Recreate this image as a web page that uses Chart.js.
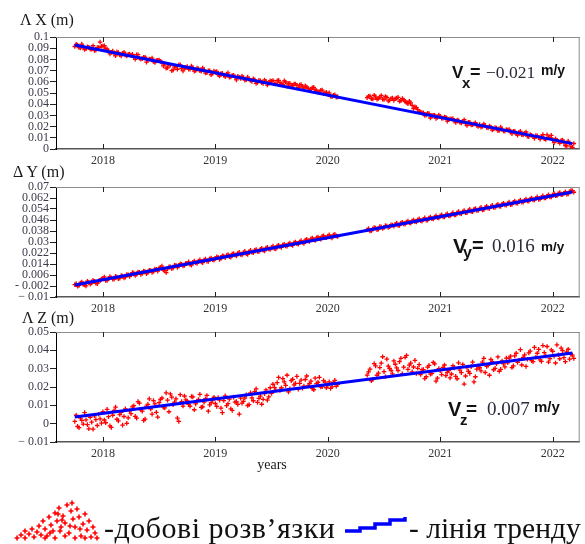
<!DOCTYPE html>
<html><head><meta charset="utf-8">
<script src="https://cdn.jsdelivr.net/npm/chart.js@4.4.0/dist/chart.umd.min.js"></script>
<style>
html,body{margin:0;padding:0;background:#fff;}
body{width:585px;height:544px;position:relative;overflow:hidden;}
canvas{position:absolute;left:0;}
svg{position:absolute;left:0;top:0;}
</style></head><body>
<canvas id="c1"></canvas><canvas id="c2"></canvas><canvas id="c3"></canvas>
<svg width="585" height="544" viewBox="0 0 585 544">
<g font-family="Liberation Serif, serif" fill="#1a1a1a">
<text x="20" y="25" font-size="16">Λ X (m)</text>
<text x="13" y="177" font-size="16">Δ Y (m)</text>
<text x="22" y="323" font-size="16">Λ Z (m)</text>
<text x="272" y="469" font-size="14" text-anchor="middle">years</text>
</g>
<g font-family="Liberation Sans, Arial, sans-serif" font-weight="bold" fill="#111">
<text x="452" y="78" font-size="17">V</text>
<text x="462" y="88" font-size="15">x</text>
<text x="470" y="78" font-size="18">=</text>
<text x="541" y="75" font-size="14">m/y</text>
<text x="453" y="253" font-size="21">V</text>
<text x="463" y="258" font-size="16">y</text>
<text x="472" y="252" font-size="20">=</text>
<text x="541" y="251" font-size="13.5">m/y</text>
<text x="448" y="416" font-size="20">V</text>
<text x="460" y="425" font-size="15">z</text>
<text x="466" y="415" font-size="19">=</text>
<text x="534" y="412" font-size="15">m/y</text>
</g>
<g font-family="Liberation Serif, serif" fill="#2a2a3a">
<text x="486" y="78" font-size="17.5">−0.021</text>
<text x="492" y="252" font-size="19">0.016</text>
<text x="487" y="415" font-size="19">0.007</text>
</g>
<g id="legIcon" stroke="#ff0000" stroke-width="1.6"></g>
<polyline points="345,531 360,531 360,528 375,528 375,524 390,524 390,520 405,520 405,517" fill="none" stroke="#0000ff" stroke-width="3.5"/>
<g font-family="Liberation Serif, serif" fill="#111">
<text x="104" y="538" font-size="30" letter-spacing="0.5">-добові розв’язки</text>
<text x="409" y="538" font-size="29.5">- лінія тренду</text>
</g>
</svg>
<script>
// ---------- DATA ----------
// daily-solution dates (decimal years), first sample set
const dates = [
2017.750,2017.775,2017.800,2017.825,2017.850,2017.875,2017.900,2017.925,2017.950,2017.975,
2018.000,2018.025,2018.050,2018.075,2018.100,2018.125,2018.150,2018.175,2018.200,2018.225,
2018.250,2018.275,2018.300,2018.325,2018.350,2018.375,2018.400,2018.425,2018.450,2018.475,
2018.500,2018.525,2018.550,2018.575,2018.600,2018.625,2018.650,2018.675,2018.700,2018.725,
2018.750,2018.775,2018.800,2018.825,2018.850,2018.875,2018.900,2018.925,2018.950,2018.975,
2019.000,2019.025,2019.050,2019.075,2019.100,2019.125,2019.150,2019.175,2019.200,2019.225,
2019.250,2019.275,2019.300,2019.325,2019.350,2019.375,2019.400,2019.425,2019.450,2019.475,
2019.500,2019.525,2019.550,2019.575,2019.600,2019.625,2019.650,2019.675,2019.700,2019.725,
2019.750,2019.775,2019.800,2019.825,2019.850,2019.875,2019.900,2019.925,2019.950,2019.975,
2020.000,2020.025,2020.050,2020.075,
2020.350,2020.375,2020.400,2020.425,2020.450,2020.475,2020.500,2020.525,2020.550,2020.575,
2020.600,2020.625,2020.650,2020.675,2020.700,2020.725,2020.750,2020.775,2020.800,2020.825,
2020.850,2020.875,2020.900,2020.925,2020.950,2020.975,2021.000,2021.025,2021.050,2021.075,
2021.100,2021.125,2021.150,2021.175,2021.200,2021.225,2021.250,2021.275,2021.300,2021.325,
2021.350,2021.375,2021.400,2021.425,2021.450,2021.475,2021.500,2021.525,2021.550,2021.575,
2021.600,2021.625,2021.650,2021.675,2021.700,2021.725,2021.750,2021.775,2021.800,2021.825,
2021.850,2021.875,2021.900,2021.925,2021.950,2021.975,2022.000,2022.025,2022.050,2022.075,
2022.100,2022.125,2022.150,2022.175
];
// second sample set (in between)
const datesB = [
2017.7625,2017.7875,2017.8125,2017.8375,2017.8625,2017.8875,2017.9125,2017.9375,2017.9625,2017.9875,
2018.0125,2018.0375,2018.0625,2018.0875,2018.1125,2018.1375,2018.1625,2018.1875,2018.2125,2018.2375,
2018.2625,2018.2875,2018.3125,2018.3375,2018.3625,2018.3875,2018.4125,2018.4375,2018.4625,2018.4875,
2018.5125,2018.5375,2018.5625,2018.5875,2018.6125,2018.6375,2018.6625,2018.6875,2018.7125,2018.7375,
2018.7625,2018.7875,2018.8125,2018.8375,2018.8625,2018.8875,2018.9125,2018.9375,2018.9625,2018.9875,
2019.0125,2019.0375,2019.0625,2019.0875,2019.1125,2019.1375,2019.1625,2019.1875,2019.2125,2019.2375,
2019.2625,2019.2875,2019.3125,2019.3375,2019.3625,2019.3875,2019.4125,2019.4375,2019.4625,2019.4875,
2019.5125,2019.5375,2019.5625,2019.5875,2019.6125,2019.6375,2019.6625,2019.6875,2019.7125,2019.7375,
2019.7625,2019.7875,2019.8125,2019.8375,2019.8625,2019.8875,2019.9125,2019.9375,2019.9625,2019.9875,
2020.0125,2020.0375,2020.0625,2020.0875,
2020.3625,2020.3875,2020.4125,2020.4375,2020.4625,2020.4875,2020.5125,2020.5375,2020.5625,2020.5875,
2020.6125,2020.6375,2020.6625,2020.6875,2020.7125,2020.7375,2020.7625,2020.7875,2020.8125,2020.8375,
2020.8625,2020.8875,2020.9125,2020.9375,2020.9625,2020.9875,2021.0125,2021.0375,2021.0625,2021.0875,
2021.1125,2021.1375,2021.1625,2021.1875,2021.2125,2021.2375,2021.2625,2021.2875,2021.3125,2021.3375,
2021.3625,2021.3875,2021.4125,2021.4375,2021.4625,2021.4875,2021.5125,2021.5375,2021.5625,2021.5875,
2021.6125,2021.6375,2021.6625,2021.6875,2021.7125,2021.7375,2021.7625,2021.7875,2021.8125,2021.8375,
2021.8625,2021.8875,2021.9125,2021.9375,2021.9625,2021.9875,2022.0125,2022.0375,2022.0625,2022.0875,
2022.1125,2022.1375,2022.1625,2022.1875
];
// daily solutions, millimetres (set A)
const dxMM = [
91.5,92.8,90.2,91.0,89.6,90.8,89.1,88.0,90.5,95.5,
92.0,89.5,87.6,86.4,85.2,86.8,84.0,85.5,83.9,84.6,
83.6,82.1,84.2,81.0,80.6,81.9,79.3,80.2,78.1,79.0,
79.5,77.2,76.0,72.5,74.8,70.6,73.9,75.1,71.8,72.4,
73.6,71.2,72.4,70.1,71.5,69.4,70.5,68.2,69.8,67.6,
68.6,66.4,67.3,65.8,66.9,64.2,65.5,63.9,64.8,63.0,
63.8,61.9,62.5,60.4,61.7,59.5,60.8,58.6,60.2,59.1,
60.5,58.2,61.0,59.3,57.6,59.8,58.4,56.2,57.9,56.8,
57.0,55.3,56.4,54.2,53.5,55.0,52.1,50.8,52.6,49.9,
48.9,47.2,48.0,46.3,
45.8,47.2,44.6,46.5,45.1,47.8,44.2,46.0,43.5,45.4,
44.8,46.1,43.2,44.0,41.5,42.7,38.9,37.6,35.2,33.0,
32.4,30.5,31.6,29.8,30.2,28.1,29.3,27.5,28.4,26.2,
26.8,25.1,25.9,23.6,24.5,22.8,23.9,21.4,22.6,21.0,
21.8,20.1,20.9,18.7,19.6,17.9,18.8,16.5,17.6,15.9,
16.9,15.0,15.8,13.6,14.8,12.7,14.1,11.5,12.9,11.0,
12.0,10.3,11.4,9.2,12.6,10.1,8.4,9.0,6.8,7.5,
5.5,2.8,4.9,1.5
];
const dyMM = [
-1.0,-2.2,0.1,-0.8,-1.9,0.6,0.2,1.4,-0.3,1.9,
3.6,2.0,3.1,4.0,2.9,4.5,3.7,5.2,4.4,6.1,
6.0,7.4,6.6,7.9,7.1,8.6,7.8,9.3,8.5,10.2,
11.0,12.5,9.2,10.4,12.0,11.2,13.1,12.4,13.8,13.0,
14.5,13.6,15.3,14.9,16.2,15.5,16.9,16.0,17.8,17.1,
18.2,18.9,18.0,19.8,20.1,19.4,21.2,20.6,21.9,21.0,
22.4,21.5,23.1,22.6,24.0,23.2,24.7,24.1,25.6,24.9,
26.0,25.3,27.1,26.6,27.9,27.2,28.6,28.0,29.4,28.8,
30.2,29.6,31.4,30.8,32.3,31.7,33.0,32.5,34.1,33.4,
34.3,33.6,35.0,34.4,
38.9,38.1,39.6,40.2,39.4,41.0,40.5,41.6,41.1,42.3,
42.8,42.0,43.7,43.1,44.6,44.0,45.3,44.8,46.2,45.5,
46.5,45.8,47.4,46.9,48.1,47.6,49.0,48.3,49.8,49.2,
50.3,49.6,51.2,50.7,52.0,51.4,52.8,52.2,53.7,53.0,
54.1,53.4,55.0,54.5,55.8,55.2,56.6,56.0,57.5,56.9,
57.9,57.2,58.8,58.3,59.6,59.0,60.4,59.8,61.3,60.6,
61.7,61.0,62.6,62.1,63.4,62.8,64.2,63.6,65.1,64.4,
65.5,64.8,66.6,67.3
];
const dzMM = [
1.2,-1.5,3.0,-0.2,2.1,-2.8,0.8,4.2,-1.0,2.6,
6.5,0.5,3.8,-2.0,7.2,2.4,5.0,-0.8,8.1,3.2,
5.5,9.8,3.0,11.2,6.8,2.5,10.5,8.0,12.6,6.2,
11.5,14.0,8.6,12.8,16.2,10.4,13.5,1.2,12.0,15.1,
12.4,9.5,14.6,10.8,13.2,8.9,11.7,15.4,10.2,12.9,
11.0,14.2,8.5,12.6,9.8,13.4,7.2,11.8,10.5,13.9,
12.2,15.8,10.4,14.1,17.5,11.6,15.0,13.3,18.4,14.6,
16.5,19.8,22.4,18.1,24.6,20.9,17.3,23.5,21.2,25.8,
22.0,19.4,24.1,20.6,23.2,18.5,21.8,25.3,20.2,22.7,
21.0,19.2,22.5,20.4,
26.5,29.8,24.2,31.5,27.6,33.0,28.4,35.2,30.1,27.2,
32.4,29.0,35.6,30.8,37.2,31.9,28.3,34.5,30.2,26.8,
29.5,25.6,31.8,27.4,32.6,24.8,28.9,30.7,26.2,29.0,
27.1,30.4,24.5,29.2,32.3,26.0,28.6,31.1,22.8,29.7,
30.5,33.6,27.9,31.8,35.0,29.4,32.7,28.6,34.2,31.0,
33.2,36.8,31.5,38.4,34.6,32.0,37.5,35.1,39.6,33.8,
36.2,40.5,34.0,38.8,42.1,35.5,39.4,33.1,37.6,41.2,
36.0,39.1,35.2,37.4
];
// daily solutions, millimetres (set B)
const dxMMB = [
93.5,90.6,93.6,88.8,91.2,89.0,92.2,88.3,90.5,91.7,
92.2,89.2,84.9,87.4,83.2,86.1,83.1,86.4,83.0,84.7,
84.5,80.1,84.2,80.2,81.9,77.6,80.3,81.2,77.2,79.3,
78.2,74.2,72.2,75.0,69.9,73.2,71.2,75.2,69.7,72.7,
71.2,74.0,69.5,72.2,69.9,72.3,67.8,69.9,66.3,69.5,
69.2,65.2,67.5,64.5,68.0,64.3,65.9,61.7,64.1,65.1,
61.5,64.2,61.1,62.7,58.6,61.3,59.3,61.6,57.1,61.0,
61.2,58.4,61.3,58.2,60.8,56.0,58.6,56.8,58.1,54.7,
57.5,54.3,55.3,52.6,54.7,53.0,50.9,52.5,49.6,50.7,
50.1,46.7,48.3,46.5,
47.1,44.9,48.0,44.4,46.3,44.5,46.9,42.9,45.1,43.4,
45.4,42.6,45.0,42.4,40.4,41.2,36.1,36.9,33.5,32.3,
29.9,31.9,27.7,30.2,27.3,30.4,27.4,28.6,24.9,27.0,
27.2,23.6,25.4,23.3,26.1,21.0,23.8,21.7,23.5,20.1,
19.5,22.3,19.3,20.6,16.9,19.1,16.4,19.5,16.1,17.4,
17.4,13.7,15.8,12.3,15.7,12.8,15.2,11.0,12.3,9.5,
11.7,8.8,12.8,8.5,10.3,12.2,5.7,8.0,5.1,8.1,
3.1,7.1,1.9,4.9
];
const dyMMB = [
-0.2,-1.6,0.9,-1.3,1.5,-0.6,2.2,0.0,1.8,3.1,
4.6,2.1,4.8,2.9,5.0,3.4,5.6,3.9,6.4,5.0,
7.7,5.6,8.2,6.4,8.9,7.0,9.5,7.9,10.3,8.8,
11.4,9.6,7.8,11.9,10.6,13.0,11.5,14.2,12.6,14.6,
15.6,13.2,16.1,14.4,17.0,15.0,17.6,15.9,18.4,16.8,
19.3,17.4,20.0,18.6,20.9,19.0,21.6,19.9,22.5,20.6,
23.2,21.0,23.9,22.2,24.6,23.0,25.4,23.5,26.1,24.5,
27.0,25.0,27.6,26.1,28.4,26.9,29.2,27.5,30.0,28.4,
31.0,29.0,31.9,30.4,32.8,31.1,33.6,32.0,34.5,33.1,
35.2,33.0,35.6,34.0,
39.8,38.2,40.5,39.0,41.2,39.8,41.9,40.6,42.6,41.5,
43.8,42.1,44.4,43.0,45.3,43.7,46.0,44.5,46.8,45.2,
47.6,45.9,48.2,46.8,49.1,47.5,49.8,48.3,50.5,49.0,
51.4,49.7,52.2,50.6,52.9,51.3,53.7,52.1,54.4,53.0,
55.2,53.5,56.0,54.4,56.7,55.1,57.5,55.9,58.2,56.8,
59.0,57.3,59.8,58.2,60.5,58.9,61.2,59.7,62.0,60.6,
62.8,61.1,63.6,62.0,64.4,62.7,65.3,63.6,66.0,64.5,
66.6,65.0,67.5,66.2
];
const dzMMB = [
4.6,-2.2,1.8,6.0,-0.5,3.5,-3.0,2.2,5.1,0.3,
2.0,7.8,-1.2,4.6,9.0,1.5,6.2,3.9,0.2,7.0,
9.2,4.0,12.0,7.5,1.8,9.6,13.5,5.2,10.8,3.6,
13.2,9.0,16.8,6.5,14.5,11.8,3.0,15.8,9.6,13.0,
10.5,14.8,7.6,12.2,16.0,9.2,13.6,6.8,11.4,14.4,
9.4,12.8,6.0,15.2,10.9,8.1,14.5,12.0,5.2,11.2,
14.0,9.9,16.8,12.5,19.0,13.8,10.6,16.4,12.8,19.6,
21.5,18.2,25.2,19.6,22.8,26.4,19.0,24.2,22.0,18.8,
23.8,20.5,26.0,21.9,19.2,24.8,22.6,20.0,23.5,19.6,
22.8,20.1,23.6,21.4,
28.2,23.4,32.8,26.4,30.6,36.5,25.6,31.4,29.0,34.2,
30.4,33.8,27.2,36.2,29.6,33.0,30.9,27.4,32.2,29.4,
24.6,30.8,27.0,33.4,23.2,30.0,26.8,32.0,28.0,25.0,
31.6,25.8,33.2,27.8,21.6,30.6,27.4,33.6,25.6,31.4,
28.8,35.6,31.2,26.4,33.8,30.2,36.4,29.6,32.6,35.8,
35.8,30.6,37.0,33.4,40.4,36.2,31.2,38.6,34.4,41.6,
38.4,34.8,42.6,37.0,33.6,40.2,36.8,43.0,35.4,39.8,
33.8,40.6,37.8,35.6
];
// trend lines (start / end), millimetres
const trendDates = [2017.75, 2022.175];
const trendXmm = [92.9, 4.8];
const trendYmm = [-1.3, 66.4];
const trendZmm = [3.6, 38.6];
// tick values and labels
const yearTicks = [2018, 2019, 2020, 2021, 2022];
const yearLabels = ['2018', '2019', '2020', '2021', '2022'];
const xTickVals = [0.1,0.09,0.08,0.07,0.06,0.05,0.04,0.03,0.02,0.01,0];
const xTickText = ['0.1','0.09','0.08','0.07','0.06','0.05','0.04','0.03','0.02','0.01','0'];
const yTickVals = [0.07,0.062,0.054,0.046,0.038,0.03,0.022,0.014,0.006,-0.002,-0.01];
const yTickText = ['0.07','0.062','0.054','0.046','0.038','0.03','0.022','0.014','0.006','- 0.002','− 0.01'];
const zTickVals = [0.05,0.04,0.03,0.02,0.01,0,-0.01];
const zTickText = ['0.05','0.04','0.03','0.02','0.01','0','− 0.01'];

// ---------- legend icon (decoration) ----------
const legendCrosses = [[17,538],[21,535],[25,538],[25,531],[29,534],[32,529],[34,537],[37,532],[39,526],[41,535],[43,521],[45,529],[47,536],[49,517],[51,525],[53,531],[55,513],[57,521],[59,508],[61,527],[63,516],[65,523],[67,505],[69,533],[71,511],[73,519],[75,527],[77,509],[79,517],[81,536],[83,524],[85,514],[87,530],[89,521],[91,537],[93,527],[95,533],[97,538],[65,536],[55,538],[45,538],[75,538],[85,538],[60,531],[50,533],[70,526],[62,520],[72,503],[58,514],[80,529]];
(function(){
  const g = document.getElementById('legIcon');
  let d = '';
  legendCrosses.forEach(([x,y]) => { d += `M${x-2.5},${y}h5M${x},${y-2.5}v5`; });
  const p = document.createElementNS('http://www.w3.org/2000/svg','path');
  p.setAttribute('d', d); g.appendChild(p);
})();

// ---------- charts ----------
const framePlugin = {
  id: 'frame',
  afterDraw(chart) {
    const {ctx, chartArea: a, scales: {x}} = chart;
    ctx.save();
    ctx.strokeStyle = '#8c8c8c'; ctx.lineWidth = 1;
    ctx.beginPath();
    ctx.moveTo(a.left, a.top + 0.5); ctx.lineTo(a.right, a.top + 0.5);
    ctx.moveTo(a.right - 0.5, a.top); ctx.lineTo(a.right - 0.5, a.bottom);
    ctx.stroke();
    ctx.strokeStyle = '#222'; ctx.lineWidth = 1;
    ctx.beginPath();
    yearTicks.forEach(v => {
      const px = Math.round(x.getPixelForValue(v)) + 0.5;
      ctx.moveTo(px, a.top); ctx.lineTo(px, a.top + 5);
      ctx.moveTo(px, a.bottom); ctx.lineTo(px, a.bottom - 5);
    });
    ctx.stroke();
    ctx.restore();
  }
};

function makePanel(id, plotTop, plotBottom, valsA, valsB, trendMM, tickVals, tickText) {
  const padTop = 10, axisH = 25;
  const cv = document.getElementById(id);
  cv.width = 585; cv.height = (plotBottom - plotTop) + padTop + axisH;
  cv.style.top = (plotTop - padTop) + 'px';
  cv.style.width = '585px'; cv.style.height = cv.height + 'px';
  const pts = dates.map((d, i) => ({x: d, y: valsA[i] / 1000}))
    .concat(datesB.map((d, i) => ({x: d, y: valsB[i] / 1000})));
  const tr = trendDates.map((d, i) => ({x: d, y: trendMM[i] / 1000}));
  const minV = Math.min(...tickVals), maxV = Math.max(...tickVals);
  new Chart(cv, {
    type: 'scatter',
    data: {datasets: [
      {type: 'line', data: tr, borderColor: '#0000ff', borderWidth: 3, pointRadius: 0, showLine: true, fill: false, order: 0},
      {data: pts, pointStyle: 'cross', pointRadius: 2.3, borderColor: '#ff0000', backgroundColor: '#ff0000', borderWidth: 1.3, order: 1}
    ]},
    options: {
      responsive: false, animation: false, devicePixelRatio: 1,
      layout: {padding: {top: padTop, right: 4, left: 0, bottom: 0}},
      plugins: {legend: {display: false}, tooltip: {enabled: false}},
      scales: {
        x: {
          type: 'linear', min: 2017.583, max: 2022.24,
          afterBuildTicks: s => { s.ticks = yearTicks.map(v => ({value: v})); },
          afterFit: s => { s.height = axisH; },
          grid: {display: false, drawTicks: false},
          border: {display: true, color: '#555', width: 1.5},
          ticks: {padding: 5, autoSkip: false, maxRotation: 0, color: '#333',
            font: {family: 'Liberation Serif', size: 12},
            callback: (v, i) => yearLabels[i]}
        },
        y: {
          min: minV, max: maxV,
          afterBuildTicks: s => { s.ticks = tickVals.map(v => ({value: v})); },
          afterFit: s => { s.width = 56; },
          grid: {drawOnChartArea: false, drawTicks: true, tickLength: 6, color: '#222'},
          border: {display: true, color: '#000', width: 1},
          ticks: {autoSkip: false, padding: 1, color: '#3a3a4a',
            font: {family: 'Liberation Serif', size: 12},
            callback: (v, i) => tickText[i]}
        }
      }
    },
    plugins: [framePlugin]
  });
}

makePanel('c1', 37, 149, dxMM, dxMMB, trendXmm, xTickVals, xTickText);
makePanel('c2', 187, 297, dyMM, dyMMB, trendYmm, yTickVals, yTickText);
makePanel('c3', 332, 442, dzMM, dzMMB, trendZmm, zTickVals, zTickText);
</script>
</body></html>
